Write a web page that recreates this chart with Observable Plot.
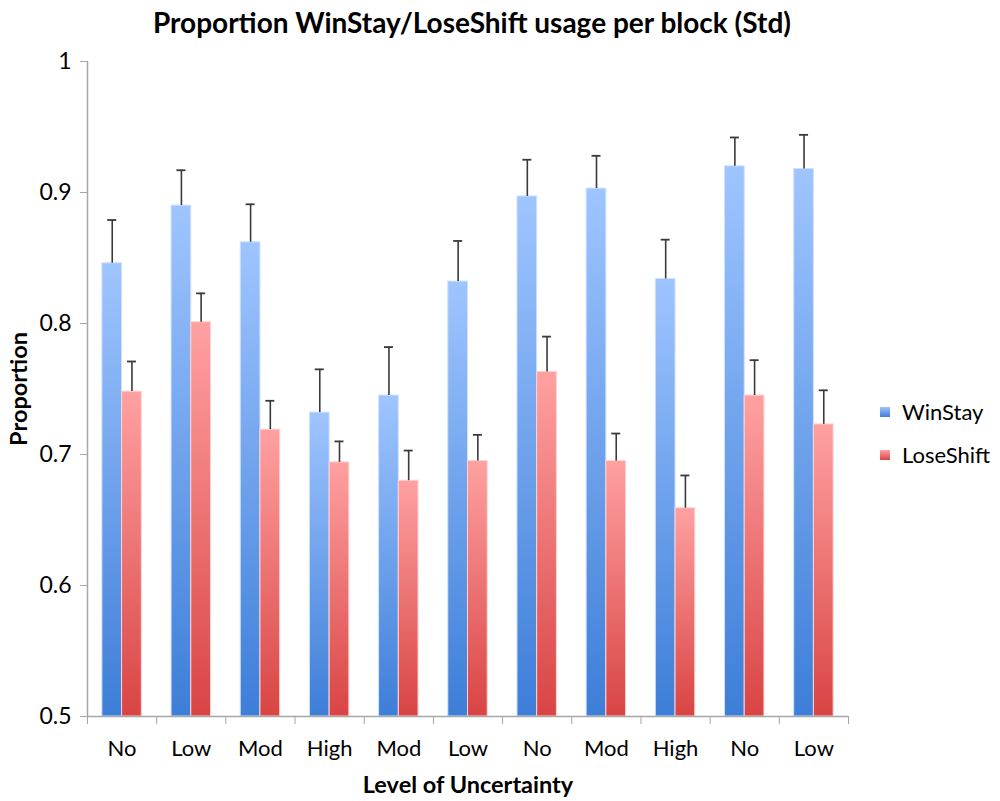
<!DOCTYPE html>
<html><head><meta charset="utf-8">
<script src="https://cdn.jsdelivr.net/npm/d3@7"></script>
<script src="https://cdn.jsdelivr.net/npm/@observablehq/plot@0.6"></script>
<style>
body{margin:0;background:#fff;font-family:Lato,"Open Sans",sans-serif;}
#wrap{position:relative;width:1000px;height:801px;overflow:hidden;}
#title{height:44px;width:944px;text-align:center;font-weight:bold;font-size:28px;line-height:44px;color:#000;}
#legend{position:absolute;left:880px;top:390px;font-size:22px;color:#000;}
#legend .row{display:flex;align-items:center;height:43px;}
#legend .sw{width:10px;height:10px;margin-right:12px;}
</style></head><body>
<div id="wrap">
<div id="title">Proportion WinStay/LoseShift usage per block (Std)</div>
<div id="chart"></div>
<div id="legend"></div>
</div>
<script>
const categories = ["No","Low","Mod","High","Mod","Low","No","Mod","High","No","Low"];
const series = ["WinStay","LoseShift"];
const winStay = [0.846,0.890,0.862,0.732,0.745,0.832,0.897,0.903,0.834,0.920,0.918];
const winStayErr = [0.879,0.917,0.891,0.765,0.782,0.863,0.925,0.928,0.864,0.942,0.944];
const loseShift = [0.748,0.801,0.719,0.694,0.680,0.695,0.763,0.695,0.659,0.745,0.723];
const loseShiftErr = [0.771,0.823,0.741,0.710,0.703,0.715,0.790,0.716,0.684,0.772,0.749];
const yTicks = [0.5,0.6,0.7,0.8,0.9,1];

const colors = {
  WinStay: {top:"#9fc5ff", bottom:"#3d7ed8", id:"gradWin"},
  LoseShift: {top:"#ffa1a1", bottom:"#d94444", id:"gradLose"}
};
const barW = 0.285;   // fraction of a category band
const capHalf = 0.065;

const rows = [];
categories.forEach((c, i) => {
  rows.push({i, cat:c, series:"WinStay", value:winStay[i], err:winStayErr[i]});
  rows.push({i, cat:c, series:"LoseShift", value:loseShift[i], err:loseShiftErr[i]});
});
rows.forEach(d => {
  const side = d.series === "WinStay" ? -1 : 1;
  d.x1 = d.series === "WinStay" ? d.i + 0.5 - barW : d.i + 0.5;
  d.x2 = d.series === "WinStay" ? d.i + 0.5 : d.i + 0.5 + barW;
  d.xc = d.i + 0.5 + side * barW / 2;
});

const plot = Plot.plot({
  width: 1000,
  height: 757,
  marginLeft: 87,
  marginRight: 152,
  marginTop: 17,
  marginBottom: 85,
  style: {fontFamily: "Lato, 'Open Sans', sans-serif", color: "#000", background: "#fff"},
  x: {domain: [0, categories.length], axis: null},
  y: {domain: [0.5, 1], axis: null},
  marks: [
    Plot.rectY(rows, {
      x1: "x1", x2: "x2", y1: 0.5, y2: "value",
      fill: d => `url(#${colors[d.series].id})`,
      stroke: d => d.series === "WinStay" ? "#cfe1ff" : "#ffd3d3",
      strokeWidth: 1
    }),
    Plot.ruleX(rows, {x: "xc", y1: "value", y2: "err", stroke: "#3a3a3a", strokeWidth: 1.6}),
    Plot.ruleY(rows, {y: "err", x1: d => d.xc - capHalf, x2: d => d.xc + capHalf, stroke: "#3a3a3a", strokeWidth: 1.8}),
    Plot.ruleX([0], {stroke: "#a6a6a6", strokeWidth: 1.5}),
    Plot.ruleY([0.5], {stroke: "#a6a6a6", strokeWidth: 1.5}),
    Plot.axisY({
      ticks: yTicks, tickSize: 7, tickPadding: 9, fontSize: 23,
      tickFormat: d => String(d), stroke: "#a6a6a6", fill: "#000",
      label: "Proportion", labelAnchor: "center", labelArrow: "none", labelOffset: 77
    }),
    Plot.axisX({
      ticks: d3.range(categories.length + 1), tickSize: 8, tickFormat: () => "",
      stroke: "#a6a6a6", label: null
    }),
    Plot.axisX({
      ticks: d3.range(categories.length).map(i => i + 0.5), tickSize: 0, tickPadding: 24,
      tickFormat: d => categories[Math.floor(d)], fontSize: 22, fill: "#000",
      label: "Level of Uncertainty", labelAnchor: "center", labelArrow: "none", labelOffset: 76
    })
  ]
});

// gradients
const svg = d3.select(plot);
const defs = svg.insert("defs", ":first-child");
Object.values(colors).forEach(c => {
  const g = defs.append("linearGradient").attr("id", c.id).attr("x1", 0).attr("y1", 0).attr("x2", 0).attr("y2", 1);
  g.append("stop").attr("offset", "0%").attr("stop-color", c.top);
  g.append("stop").attr("offset", "100%").attr("stop-color", c.bottom);
});
// bold axis labels
svg.selectAll("[aria-label='y-axis label'], [aria-label='x-axis label']").attr("font-weight", "bold").attr("font-size", 23.5);
svg.selectAll("[aria-label='y-axis label'] text, [aria-label='x-axis label'] text").attr("font-weight", "bold").attr("font-size", 23.5);

document.getElementById("chart").appendChild(plot);

// legend
const legend = d3.select("#legend");
series.forEach(s => {
  const r = legend.append("div").attr("class", "row");
  r.append("div").attr("class", "sw").style("background", `linear-gradient(${colors[s].top}, ${colors[s].bottom})`);
  r.append("span").text(s);
});
</script>
</body></html>
